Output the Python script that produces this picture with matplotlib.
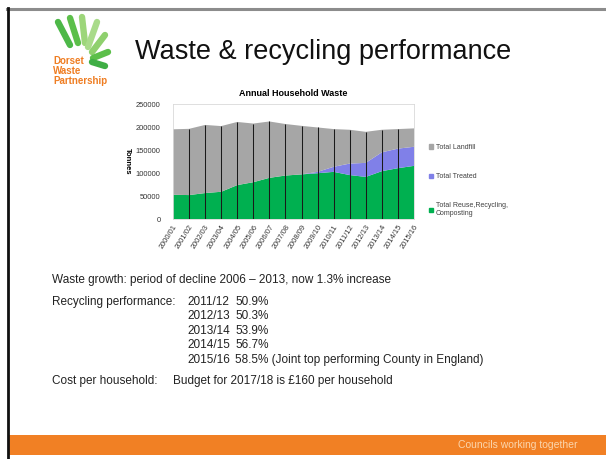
import numpy as np
import matplotlib.pyplot as plt
from matplotlib.patches import Rectangle, Patch

plt.rcParams['font.family'] = ['Liberation Sans', 'DejaVu Sans']

#? Datos
anios = ["2000/01", "2001/02", "2002/03", "2003/04", "2004/05", "2005/06",
         "2006/07", "2007/08", "2008/09", "2009/10", "2010/11", "2011/12",
         "2012/13", "2013/14", "2014/15", "2015/16"]
reciclaje = [52700, 52000, 56400, 59200, 73700, 80000, 89500, 94500,
             97000, 99500, 102500, 95500, 91500, 104000, 110500, 115500]
tratado = [0, 0, 0, 0, 0, 0, 0, 0, 0, 3000, 11000, 25000, 30500, 41000, 42500, 41500]
vertedero = [142300, 144000, 148100, 142800, 137300, 127500, 122500, 112000,
             105500, 96500, 82000, 73500, 67500, 49000, 42500, 40000]
series = ["Total Reuse,Recycling,\nComposting", "Total Treated", "Total Landfill"]

crecimiento = "Waste growth: period of decline 2006 \u2013 2013, now 1.3% increase"
rendimiento = [("2011/12", "50.9%"), ("2012/13", "50.3%"), ("2013/14", "53.9%"),
               ("2014/15", "56.7%"), ("2015/16", "58.5% (Joint top performing County in England)")]
coste = "Budget for 2017/18 is \u00a3160 per household"

W, H = 606, 459
fig = plt.figure(figsize=(W / 100, H / 100), dpi=100)
fig.patch.set_facecolor("white")

# capa de fondo en pixeles
bg = fig.add_axes([0, 0, 1, 1])
bg.set_xlim(0, W)
bg.set_ylim(H, 0)
bg.axis("off")
bg.plot([7, W], [8.5, 8.5], color="#8c8c8c", lw=2.2)
bg.plot([8, 8], [8, H], color="#111111", lw=2)
bg.add_patch(Rectangle((9, 435), W - 9, 20, color="#f18024", lw=0))
bg.text(577, 445, "Councils working together", color="#fbd6ae", fontsize=7.5,
        ha="right", va="center")

# logo
hojas = [((58, 22), (70, 45), "#4db848"), ((70, 18), (78, 43), "#5cbf4a"),
         ((82, 17), (85, 43), "#9dd67a"), ((97, 22), (88, 47), "#a9db8a"),
         ((105, 35), (92, 52), "#8fd06e"), ((108, 52), (93, 58), "#5cbf4a"),
         ((105, 66), (92, 62), "#3fae45")]
for (x0, y0), (x1, y1), c in hojas:
    bg.plot([x0, x1], [y0, y1], color=c, lw=4.6, solid_capstyle="round")
for i, palabra in enumerate(["Dorset", "Waste", "Partnership"]):
    bg.text(53, 61 + 10 * i, palabra, color="#ef7d22", fontsize=7, fontweight="bold",
            va="center", ha="left")

bg.text(135, 52, "Waste & recycling performance", fontsize=19.5, va="center",
        ha="left", color="#111111")

# texto inferior
kw = dict(fontsize=8.5, va="center", color="#222222")
bg.text(52, 280, crecimiento, **kw)
bg.text(52, 302, "Recycling performance:", **kw)
for i, (a, p) in enumerate(rendimiento):
    y = 302 + 14.4 * i
    bg.text(187, y, a, **kw)
    bg.text(235, y, p, **kw)
bg.text(52, 381, "Cost per household:", **kw)
bg.text(173, 381, coste, **kw)

#? Grafico
ax = fig.add_axes([173 / W, 1 - 219 / H, (414 - 173) / W, (219 - 104) / H])
x = np.arange(len(anios))
colores = ["#00b050", "#8080e8", "#a6a6a6"]
ax.stackplot(x, reciclaje, tratado, vertedero, colors=colores, lw=0)
total = np.array(reciclaje) + np.array(tratado) + np.array(vertedero)
ax.vlines(x[1:-1], 0, total[1:-1], color="#1a1a1a", lw=0.75)
ax.set_xlim(0, len(anios) - 1)
ax.set_ylim(0, 250000)
ax.set_yticks(np.arange(0, 250001, 50000))
ax.set_yticklabels([str(v) for v in range(0, 250001, 50000)])
ax.set_xticks(x)
ax.set_xticklabels(anios, rotation=58, ha="right", rotation_mode="anchor")
ax.tick_params(axis="both", length=0, labelsize=5.4, colors="#333333")
ax.tick_params(axis="y", pad=9)
ax.tick_params(axis="x", pad=3)
for s in ax.spines.values():
    s.set_color("#d9d9d9")
    s.set_linewidth(0.6)
ax.set_title("Annual Household Waste", fontsize=6.5, fontweight="bold", pad=6)
ax.set_ylabel("Tonnes", fontsize=5.5, fontweight="bold", rotation=270, va="center")
ax.yaxis.set_label_coords(-0.19, 0.5)

handles = [Patch(color=colores[2], label=series[2]),
           Patch(color=colores[1], label=series[1]),
           Patch(color=colores[0], label=series[0])]
leg = fig.legend(handles=handles, loc="upper left", bbox_to_anchor=(429 / W, 1 - 144 / H),
                 fontsize=5, frameon=False, labelspacing=3.2, handlelength=0.6,
                 handleheight=0.6, handletextpad=0.35, borderpad=0, borderaxespad=0)
for t in leg.get_texts():
    t.set_color("#404040")

plt.savefig("out.png", dpi=100)
